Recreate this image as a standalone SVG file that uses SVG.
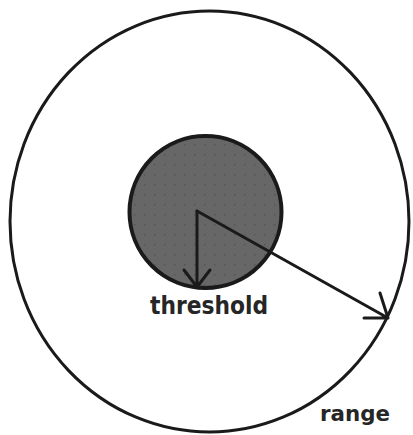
<svg xmlns="http://www.w3.org/2000/svg" width="413" height="435" viewBox="0 0 413 435">
<style>
.ring{fill:none;stroke:#1a1a1a;stroke-width:3}
.core{stroke:#1a1a1a;stroke-width:4}
.arr{fill:none;stroke:#1a1a1a;stroke-width:3;stroke-linecap:round;stroke-linejoin:round}
.lbl{font-family:"DejaVu Sans","Liberation Sans",sans-serif;font-weight:bold;fill:#262626}
</style>
<defs>
<pattern id="dots" width="10" height="10" patternUnits="userSpaceOnUse">
<rect width="10" height="10" fill="#676767"/>
<rect x="4" y="4" width="1.5" height="1.5" fill="#555555"/>
</pattern>
</defs>
<rect width="413" height="435" fill="#ffffff"/>
<g id="range">
<ellipse class="ring" cx="209.5" cy="221.5" rx="199.5" ry="210.5"/>
<text class="lbl" x="320" y="421" font-size="22" textLength="70" lengthAdjust="spacingAndGlyphs">range</text>
</g>
<g id="threshold">
<circle class="core" cx="205.5" cy="212" r="76" fill="url(#dots)"/>
<text class="lbl" x="150" y="314" font-size="25" textLength="118" lengthAdjust="spacingAndGlyphs">threshold</text>
</g>
<g id="connectors">
<path class="arr" d="M197,211 L197,287 M184,270 L197,287 L210,270"/>
<path class="arr" d="M197,211 L388,318 M364,318 L388,318 L380,293"/>
</g>
</svg>
